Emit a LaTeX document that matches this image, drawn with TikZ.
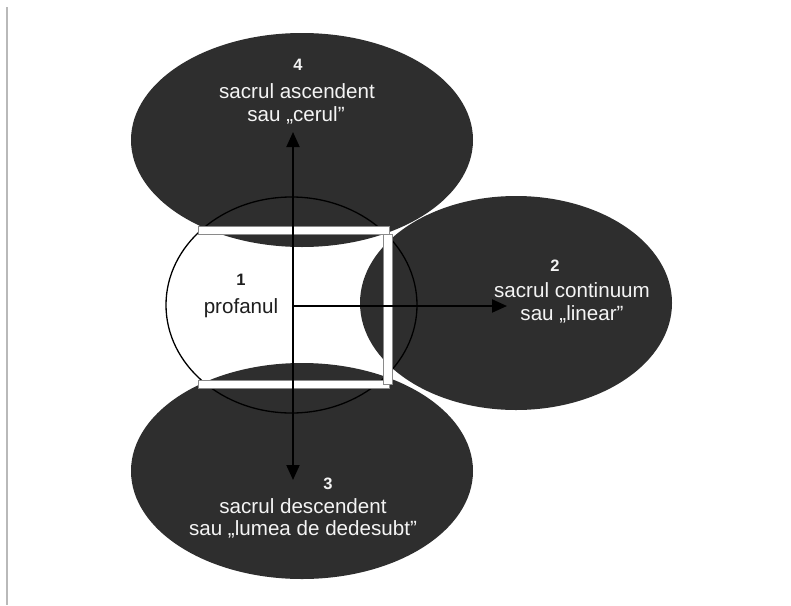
\documentclass[tikz,border=0pt]{standalone}
\usepackage{fontspec}
\setmainfont{Liberation Sans}
\usetikzlibrary{shapes.geometric,arrows.meta}
\definecolor{dark}{HTML}{2E2E2E}
\definecolor{baredge}{HTML}{8A8A8A}
\definecolor{lighttext}{HTML}{F4F4F4}
\definecolor{inktext}{HTML}{1E1E1E}
\begin{document}
\begin{tikzpicture}[x=1pt,y=-1pt,
  zone/.style={ellipse, fill=dark, draw=none, inner sep=0pt, outer sep=0pt},
  lbl/.style={anchor=base, inner sep=0pt, text=lighttext, font=\fontsize{20.6}{23}\selectfont},
  num/.style={anchor=base, inner sep=0pt, text=lighttext, font=\fontsize{16.5}{18}\selectfont\bfseries},
  bar/.style={fill=white, draw=baredge, line width=0.8pt},
  arr/.style={line width=2pt, -{Triangle[length=15pt,width=13pt]}},
]
\useasboundingbox (0,0) rectangle (791,605);
\fill[white] (0,0) rectangle (791,605);
\draw[gray!55, line width=1.5pt] (7,7) -- (7,605);

% dark zones
\node[zone, minimum width=342pt, minimum height=214pt] (e4) at (302,140) {};
\node[zone, minimum width=342pt, minimum height=216pt] (e3) at (302,471) {};
\node[zone, minimum width=312pt, minimum height=214pt] (e2) at (516,303) {};

% central profane circle
\node[ellipse, draw=black, line width=1.3pt, inner sep=0pt, minimum width=251pt, minimum height=216pt] (e1) at (291.5,305) {};

% white bars
\draw[bar] (198,226) rectangle (389,234);
\draw[bar] (198,380) rectangle (389,388);
\draw[bar] (383,234) rectangle (392,384);

% arrows
\coordinate (c) at (293,306);
\coordinate (a4) at (293,132);
\coordinate (a3) at (293,480);
\coordinate (a2) at (507,306);
\draw[arr] (c) -- (a4);
\draw[arr] (c) -- (a3);
\draw[arr] (c) -- (a2);

% labels
\node[num] (n4) at (298,70) {4};
\node[lbl] (l4a) at (297,98) {sacrul ascendent};
\node[lbl] (l4b) at (296,121) {sau „cerul”};

\node[num, text=inktext] (n1) at (241,285) {1};
\node[lbl, text=inktext] (l1) at (241,313) {profanul};

\node[num] (n2) at (555,271) {2};
\node[lbl] (l2a) at (572,297) {sacrul continuum};
\node[lbl] (l2b) at (572,320) {sau „linear”};

\node[num] (n3) at (328,489) {3};
\node[lbl] (l3a) at (303,513) {sacrul descendent};
\node[lbl] (l3b) at (303,535) {sau „lumea de dedesubt”};
\end{tikzpicture}
\end{document}
